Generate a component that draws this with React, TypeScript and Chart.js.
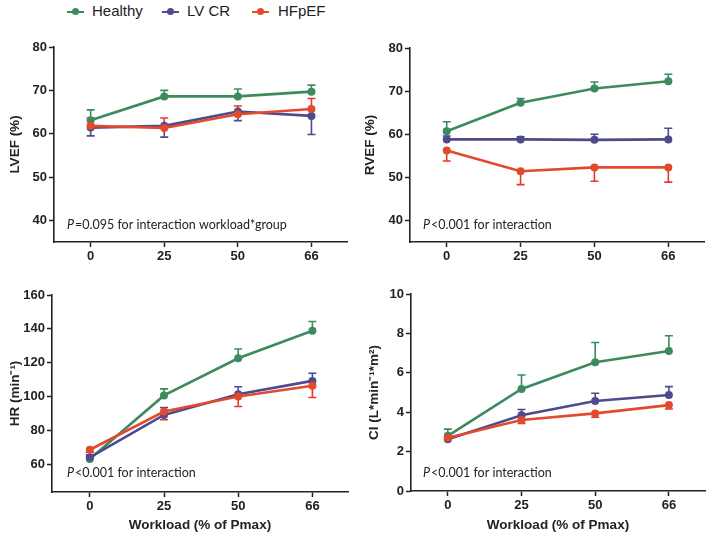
import React, { useEffect, useRef } from "react";
import { Chart, registerables } from "chart.js";

Chart.register(...registerables);

// ---------- data ----------
const groups = ["Healthy", "LV CR", "HFpEF"];
const workloadLabels = ["0", "25", "50", "66"];
const workloadIndex = [0, 1, 2, 3];

// LVEF (%)
const lvefHealthy = [63.1, 68.6, 68.6, 69.7];
const lvefHealthyErr = [2.4, 1.4, 1.7, 1.5];
const lvefLvcr = [61.4, 61.8, 65.1, 64.1];
const lvefLvcrErr = [1.9, 2.6, 2.1, 4.3];
const lvefHfpef = [61.8, 61.3, 64.5, 65.7];
const lvefHfpefErr = [1.8, 2.3, 1.9, 2.4];
const lvefTicks = [40, 50, 60, 70, 80];

// RVEF (%)
const rvefHealthy = [60.7, 67.3, 70.6, 72.3];
const rvefHealthyErr = [2.2, 1.0, 1.5, 1.6];
const rvefLvcr = [58.8, 58.8, 58.7, 58.8];
const rvefLvcrErr = [0.8, 0.6, 1.3, 2.6];
const rvefHfpef = [56.2, 51.4, 52.3, 52.3];
const rvefHfpefErr = [2.4, 3.1, 3.2, 3.4];
const rvefTicks = [40, 50, 60, 70, 80];

// HR (min-1)
const hrHealthy = [63.0, 100.6, 122.6, 138.9];
const hrHealthyErr = [1.5, 3.9, 5.5, 5.4];
const hrLvcr = [64.0, 89.1, 101.3, 109.2];
const hrLvcrErr = [1.5, 4.4, 4.4, 4.5];
const hrHfpef = [68.5, 91.1, 100.0, 106.3];
const hrHfpefErr = [1.4, 4.9, 5.9, 6.9];
const hrTicks = [60, 80, 100, 120, 140, 160];

// CI (L*min-1*m2)
const ciHealthy = [2.8, 5.18, 6.54, 7.11];
const ciHealthyErr = [0.34, 0.71, 1.0, 0.77];
const ciLvcr = [2.63, 3.85, 4.57, 4.87];
const ciLvcrErr = [0.1, 0.29, 0.39, 0.43];
const ciHfpef = [2.7, 3.6, 3.94, 4.36];
const ciHfpefErr = [0.1, 0.17, 0.2, 0.2];
const ciTicks = [0, 2, 4, 6, 8, 10];

// ---------- styles ----------
const lineColors = ["#3d8a5f", "#4d4b8c", "#e2492d"];
const errColors = ["#3d8a5f", "#4d4b8c", "#e8372b"];
const ink = "#222222";
const tickFont = { family: "'Liberation Sans', Arial, sans-serif", size: 13, weight: "bold" as const };
const titleFont = { family: "'Liberation Sans', Arial, sans-serif", size: 13.5, weight: "bold" as const };

type PanelCfg = {
  left: number; top: number; w: number; h: number;
  padTop: number; padRight: number; yWidth: number; xHeight: number;
  yMin: number; yMax: number; yTicks: number[]; yTitle: string; yTitlePad: number;
  xMin: number; xMax: number; xTitle?: string;
  series: number[][]; errors: number[][]; dirs: number[];
  note: string; noteDx: number; noteDy: number;
};

const panels: PanelCfg[] = [
  {
    left: 0, top: 30, w: 355, h: 245, padTop: 17, padRight: 8, yWidth: 54, xHeight: 33,
    yMin: 35, yMax: 80, yTicks: lvefTicks, yTitle: "LVEF (%)", yTitlePad: 7,
    xMin: -0.498, xMax: 3.483,
    series: [lvefHealthy, lvefLvcr, lvefHfpef], errors: [lvefHealthyErr, lvefLvcrErr, lvefHfpefErr], dirs: [1, -1, 1],
    note: "=0.095 for interaction workload*group", noteDx: 13, noteDy: 13,
  },
  {
    left: 355, top: 30, w: 354, h: 245, padTop: 18, padRight: 5, yWidth: 55, xHeight: 33,
    yMin: 35, yMax: 80, yTicks: rvefTicks, yTitle: "RVEF (%)", yTitlePad: 7,
    xMin: -0.497, xMax: 3.483,
    series: [rvefHealthy, rvefLvcr, rvefHfpef], errors: [rvefHealthyErr, rvefLvcrErr, rvefHfpefErr], dirs: [1, 1, -1],
    note: "<0.001 for interaction", noteDx: 13, noteDy: 13,
  },
  {
    left: 0, top: 275, w: 355, h: 260, padTop: 20, padRight: 7, yWidth: 52, xHeight: 43,
    yMin: 43.5, yMax: 160, yTicks: hrTicks, yTitle: "HR (min\u207B\u00B9)", yTitlePad: 7,
    xMin: -0.51, xMax: 3.48, xTitle: "Workload (% of Pmax)",
    series: [hrHealthy, hrLvcr, hrHfpef], errors: [hrHealthyErr, hrLvcrErr, hrHfpefErr], dirs: [1, 1, -1],
    note: "<0.001 for interaction", noteDx: 15, noteDy: 15,
  },
  {
    left: 355, top: 275, w: 354, h: 260, padTop: 19, padRight: 3, yWidth: 56, xHeight: 44,
    yMin: 0, yMax: 10, yTicks: ciTicks, yTitle: "CI (L*min\u207B\u00B9*m\u00B2)", yTitlePad: 11,
    xMin: -0.5, xMax: 3.49, xTitle: "Workload (% of Pmax)",
    series: [ciHealthy, ciLvcr, ciHfpef], errors: [ciHealthyErr, ciLvcrErr, ciHfpefErr], dirs: [1, 1, -1],
    note: "<0.001 for interaction", noteDx: 12, noteDy: 14,
  },
];

const errorBarPlugin = {
  id: "errorBars",
  beforeDatasetsDraw(chart: any) {
    const ctx = chart.ctx;
    const ys = chart.scales.y;
    chart.data.datasets.forEach((ds: any, i: number) => {
      const meta = chart.getDatasetMeta(i);
      ds.errors.forEach((e: number, j: number) => {
        const pt = meta.data[j];
        if (!pt) return;
        const v = ds.data[j].y;
        const yEnd = ys.getPixelForValue(v + ds.errDir * e);
        ctx.save();
        ctx.strokeStyle = ds.errColor;
        ctx.lineWidth = 1.6;
        ctx.beginPath();
        ctx.moveTo(pt.x, pt.y);
        ctx.lineTo(pt.x, yEnd);
        ctx.moveTo(pt.x - 4, yEnd);
        ctx.lineTo(pt.x + 4, yEnd);
        ctx.stroke();
        ctx.restore();
      });
    });
  },
};

const notePlugin = {
  id: "pNote",
  afterDraw(chart: any) {
    const o = chart.options.plugins.pNote;
    if (!o) return;
    const ctx = chart.ctx;
    const x = chart.chartArea.left + o.dx;
    const y = chart.chartArea.bottom - o.dy;
    ctx.save();
    ctx.fillStyle = ink;
    ctx.textBaseline = "alphabetic";
    ctx.font = "italic 12.5px Lato, 'Open Sans', sans-serif";
    ctx.fillText("P", x, y);
    const pw = ctx.measureText("P").width;
    ctx.font = "12.5px Lato, 'Open Sans', sans-serif";
    ctx.fillText(o.text, x + pw + 1, y);
    ctx.restore();
  },
};

function Panel({ cfg }: { cfg: PanelCfg }) {
  const ref = useRef<HTMLCanvasElement | null>(null);
  useEffect(() => {
    if (!ref.current) return;
    const datasets = cfg.series.map((vals, s) => ({
      label: groups[s],
      data: vals.map((v, j) => ({ x: workloadIndex[j], y: v })),
      errors: cfg.errors[s],
      errDir: cfg.dirs[s],
      errColor: errColors[s],
      borderColor: lineColors[s],
      backgroundColor: lineColors[s],
      pointBackgroundColor: lineColors[s],
      pointBorderColor: lineColors[s],
      pointRadius: 4,
      pointBorderWidth: 0,
      borderWidth: 2.6,
      tension: 0,
      clip: false as any,
      order: 2 - s,
    }));
    const chart = new Chart(ref.current, {
      type: "line",
      data: { datasets } as any,
      options: {
        animation: false,
        responsive: false,
        maintainAspectRatio: false,
        devicePixelRatio: 1,
        layout: { padding: { left: 0, top: cfg.padTop, right: cfg.padRight, bottom: 0 } },
        plugins: {
          legend: { display: false },
          tooltip: { enabled: false },
          pNote: { text: cfg.note, dx: cfg.noteDx, dy: cfg.noteDy },
        } as any,
        scales: {
          x: {
            type: "linear",
            min: cfg.xMin,
            max: cfg.xMax,
            afterBuildTicks: (s: any) => {
              s.ticks = workloadIndex.map((v) => ({ value: v }));
            },
            afterFit: (s: any) => {
              s.height = cfg.xHeight;
            },
            ticks: {
              callback: (v: any) => workloadLabels[Number(v)] ?? "",
              font: tickFont,
              color: ink,
              padding: 2,
              maxRotation: 0,
              autoSkip: false,
            },
            grid: { display: true, drawOnChartArea: false, drawTicks: true, tickLength: 5, tickWidth: 1.5, tickColor: ink },
            border: { display: true, color: ink, width: 1.6 },
            title: cfg.xTitle
              ? { display: true, text: cfg.xTitle, font: titleFont, color: ink, padding: { top: 0, bottom: 2 } }
              : { display: false },
          },
          y: {
            type: "linear",
            min: cfg.yMin,
            max: cfg.yMax,
            afterBuildTicks: (s: any) => {
              s.ticks = cfg.yTicks.map((v) => ({ value: v }));
            },
            afterFit: (s: any) => {
              s.width = cfg.yWidth;
            },
            ticks: { font: tickFont, color: ink, padding: 2 },
            grid: { display: true, drawOnChartArea: false, drawTicks: true, tickLength: 5, tickWidth: 1.5, tickColor: ink },
            border: { display: true, color: ink, width: 1.6 },
            title: { display: true, text: cfg.yTitle, font: titleFont, color: ink, padding: { top: cfg.yTitlePad, bottom: 0 } },
          },
        },
      } as any,
      plugins: [errorBarPlugin, notePlugin],
    });
    return () => chart.destroy();
  }, [cfg]);
  return (
    <canvas
      ref={ref}
      width={cfg.w}
      height={cfg.h}
      style={{ position: "absolute", left: cfg.left, top: cfg.top, width: cfg.w, height: cfg.h }}
    />
  );
}

const legendItems = [
  { mx: 67, tx: 92 },
  { mx: 162, tx: 187 },
  { mx: 252, tx: 278 },
];

export default function App() {
  return (
    <div style={{ position: "absolute", left: 0, top: 0, width: 709, height: 535, background: "#fff", overflow: "hidden" }}>
      {groups.map((g, i) => (
        <React.Fragment key={g}>
          <div style={{ position: "absolute", left: legendItems[i].mx, top: 10.5, width: 17, height: 2.5, background: lineColors[i] }} />
          <div
            style={{
              position: "absolute",
              left: legendItems[i].mx + 8.5 - 3.5,
              top: 11.75 - 3.5,
              width: 7,
              height: 7,
              borderRadius: "50%",
              background: lineColors[i],
            }}
          />
          <span
            style={{
              position: "absolute",
              left: legendItems[i].tx,
              top: 3,
              font: "15px 'Liberation Sans', Arial, sans-serif",
              lineHeight: "15px",
              color: ink,
              whiteSpace: "nowrap",
            }}
          >
            {g}
          </span>
        </React.Fragment>
      ))}
      {panels.map((p, i) => (
        <Panel key={i} cfg={p} />
      ))}
    </div>
  );
}
